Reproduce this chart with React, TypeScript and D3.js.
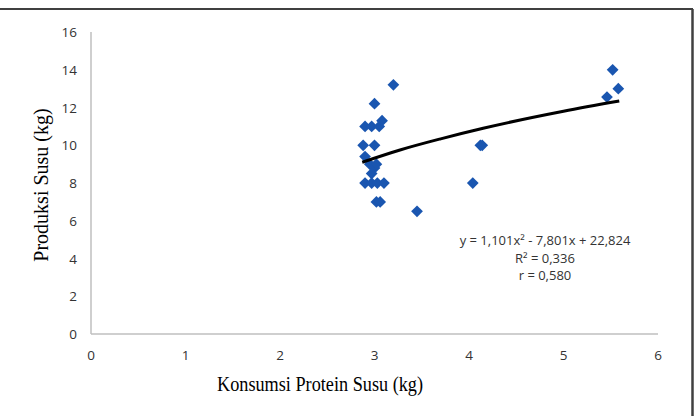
import React from "react";
import * as d3 from "d3";

const protein = [3.2, 3.0, 2.9, 2.97, 3.05, 3.08, 2.88, 3.0, 2.9, 2.95, 3.0, 3.02, 2.97, 2.9, 2.97, 3.03, 3.1, 3.02, 3.06, 3.45, 4.04, 4.12, 4.14, 5.46, 5.52, 5.58];
const produksi = [13.2, 12.2, 11.0, 11.0, 11.0, 11.3, 10.0, 10.0, 9.4, 9.0, 8.8, 9.0, 8.5, 8.0, 8.0, 8.0, 8.0, 7.0, 7.0, 6.5, 8.0, 10.0, 10.0, 12.55, 14.0, 13.0];
const trendX = [2.87, 3.27, 3.7, 4.15, 5.0, 5.59];
const trendY = [9.1, 9.75, 10.34, 10.9, 11.8, 12.34];
const xTicks = [0, 1, 2, 3, 4, 5, 6];
const yTicks = [0, 2, 4, 6, 8, 10, 12, 14, 16];
const eqLines = ["y = 1,101x² - 7,801x + 22,824", "R² = 0,336", "r = 0,580"];

export default function App() {
  const W = 698, H = 416;
  const x = d3.scaleLinear().domain([0, 6]).range([91, 658]);
  const y = d3.scaleLinear().domain([0, 16]).range([334, 32]);
  const pts = protein.map((p, i) => [p, produksi[i]] as [number, number]);
  const trend = trendX.map((t, i) => [t, trendY[i]] as [number, number]);
  const line = d3.line<[number, number]>().x(d => x(d[0])).y(d => y(d[1])).curve(d3.curveMonotoneX);
  const diamond = d3.symbol().type(d3.symbolDiamond2).size(88)() as string;
  const tickFont = "'Open Sans', 'Noto Sans', sans-serif";
  const titleFont = "'Liberation Serif', 'Times New Roman', serif";
  return (
    <svg width={W} height={H} style={{ position: "absolute", left: 0, top: 0, background: "#fff" }}>
      <rect x={0} y={0} width={W} height={H} fill="#fff" />
      <line x1={0} x2={693} y1={9} y2={9} stroke="#404040" strokeWidth={2} />
      <line x1={692.5} x2={692.5} y1={9} y2={H} stroke="#404040" strokeWidth={2.5} />
      <line x1={x(0)} x2={x(0)} y1={y(16)} y2={y(0)} stroke="#bfbfbf" strokeWidth={1.5} />
      <line x1={x(0)} x2={x(6)} y1={y(0)} y2={y(0)} stroke="#bfbfbf" strokeWidth={1.5} />
      {yTicks.map(t => (
        <text key={"y" + t} x={77} y={y(t) + 5} textAnchor="end" fontFamily={tickFont} fontSize={13.5} fill="#333">{t}</text>
      ))}
      {xTicks.map(t => (
        <text key={"x" + t} x={x(t)} y={360} textAnchor="middle" fontFamily={tickFont} fontSize={13.5} fill="#333">{t}</text>
      ))}
      {pts.map((d, i) => (
        <path key={i} d={diamond} transform={`translate(${x(d[0])},${y(d[1])})`} fill="#1a56b0" />
      ))}
      <path d={line(trend) as string} fill="none" stroke="#000" strokeWidth={3} />
      {eqLines.map((s, i) => (
        <text key={i} x={545} y={245 + i * 17.5} textAnchor="middle" fontFamily={tickFont} fontSize={13} fill="#333">{s}</text>
      ))}
      <text x={320} y={391} textAnchor="middle" fontFamily={titleFont} fontSize={21} fill="#000" textLength={206} lengthAdjust="spacingAndGlyphs">Konsumsi Protein Susu (kg)</text>
      <text transform={`translate(48,185) rotate(-90)`} textAnchor="middle" fontFamily={titleFont} fontSize={20} fill="#000">Produksi Susu (kg)</text>
    </svg>
  );
}
